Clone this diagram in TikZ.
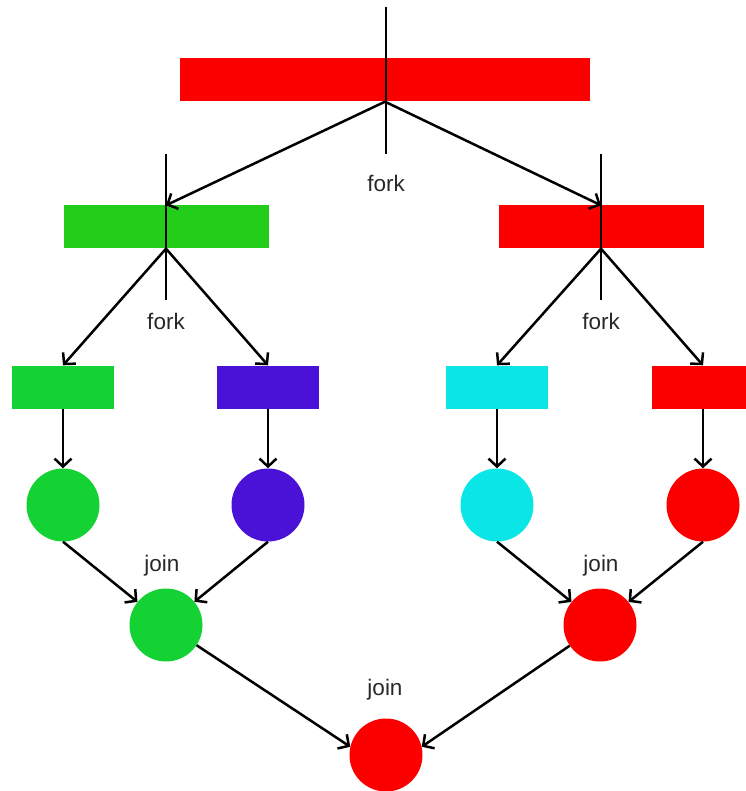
\documentclass[tikz,border=0pt]{standalone}
\usepackage{fontspec}
\setmainfont{Liberation Sans}
\usetikzlibrary{arrows.meta}
\definecolor{cRed}{RGB}{252,0,0}
\definecolor{cGreenA}{RGB}{34,206,26}
\definecolor{cGreenB}{RGB}{20,210,52}
\definecolor{cPurple}{RGB}{74,18,214}
\definecolor{cCyan}{RGB}{10,230,230}
\definecolor{cText}{RGB}{40,40,40}
\tikzset{
  bigbar/.style={rectangle, inner sep=0pt, minimum width=410pt, minimum height=43pt, fill=#1},
  midbar/.style={rectangle, inner sep=0pt, minimum width=205pt, minimum height=43pt, fill=#1},
  smallbar/.style={rectangle, inner sep=0pt, minimum width=102pt, minimum height=43pt, fill=#1},
  task/.style={circle, inner sep=0pt, minimum size=73pt, fill=#1},
  flow/.style={line width=2.5pt, -{Straight Barb[length=8pt,width=17pt,line width=2.5pt]}},
  forkline/.style={line width=2.5pt},
  lbl/.style={font=\fontsize{22.5}{26}\selectfont, text=cText, inner sep=0pt}
}
\begin{document}
\begin{tikzpicture}[x=1pt,y=-1pt]
\useasboundingbox (0,0) rectangle (745,791);

% task bars
\node[bigbar=cRed]      (top)  at (385,80)  {};
\node[midbar=cGreenA]   (gl)   at (166,227) {};
\node[midbar=cRed]      (gr)   at (601,227) {};
\node[smallbar=cGreenB] (sa)   at (63,387)  {};
\node[smallbar=cPurple] (sb)   at (268,387) {};
\node[smallbar=cCyan]   (sc)   at (497,387) {};
\node[smallbar=cRed]    (sd)   at (703,387) {};

% results
\node[task=cGreenB] (ca) at (63,505)  {};
\node[task=cPurple] (cb) at (268,505) {};
\node[task=cCyan]   (cc) at (497,505) {};
\node[task=cRed]    (cd) at (703,505) {};
\node[task=cGreenB] (ja) at (166,625) {};
\node[task=cRed]    (jb) at (600,625) {};
\node[task=cRed]    (jc) at (386,755) {};

% fork split lines
\coordinate (t1) at (386,7);   \coordinate (t2) at (386,154);
\coordinate (l1) at (166,154); \coordinate (l2) at (166,300);
\coordinate (r1) at (601,154); \coordinate (r2) at (601,300);
\draw[forkline] (t1) -- (t2);
\draw[forkline] (l1) -- (l2);
\draw[forkline] (r1) -- (r2);

% labels
\node[lbl] (f0) at (386,183) {fork};
\node[lbl] (f1) at (166,321) {fork};
\node[lbl] (f2) at (601,321) {fork};
\node[lbl] (j1) at (162,566) {join};
\node[lbl] (j2) at (601,566) {join};
\node[lbl] (j3) at (385,690) {join};

% fork arrows
\draw[flow] (top.south) -- (gl.north);
\draw[flow] (top.south) -- (gr.north);
\draw[flow] (gl.south) -- (sa.north);
\draw[flow] (gl.south) -- (sb.north);
\draw[flow] (gr.south) -- (sc.north);
\draw[flow] (gr.south) -- (sd.north);

% bars to results
\draw[flow] (sa.south) -- (ca.north);
\draw[flow] (sb.south) -- (cb.north);
\draw[flow] (sc.south) -- (cc.north);
\draw[flow] (sd.south) -- (cd.north);

% join arrows
\draw[flow] (ca.south) -- (ja);
\draw[flow] (cb.south) -- (ja);
\draw[flow] (cc.south) -- (jb);
\draw[flow] (cd.south) -- (jb);
\draw[flow] (ja) -- (jc.167);
\draw[flow] (jb) -- (jc.13);
\end{tikzpicture}
\end{document}
